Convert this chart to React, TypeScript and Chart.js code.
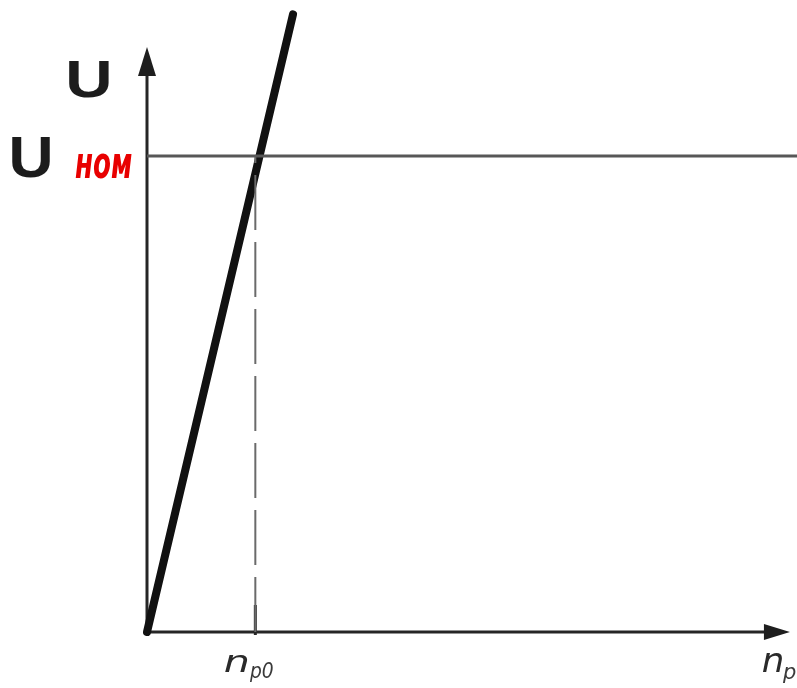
import React, { useEffect, useRef } from "react";
import { Chart, registerables } from "chart.js";

Chart.register(...registerables);

// Rotor speed (n_p, in units of n_p0) and terminal voltage (U, in units of U_nom)
const riseSpeed = [0, 1.348];
const riseVoltage = [0, 1.298];
const nominalVoltage = 1;
const thresholdSpeed = 1;
const speedMax = 6;
const voltageMax = 1.328;
const speedAxisEnd = 5.935;
const voltageAxisEnd = 1.229;

const nominalLine = [
  { x: 0, y: nominalVoltage },
  { x: speedMax, y: nominalVoltage },
];
const thresholdLine = [
  { x: thresholdSpeed, y: 0 },
  { x: thresholdSpeed, y: nominalVoltage },
];
const riseLine = riseSpeed.map((x, i) => ({ x, y: riseVoltage[i] }));

// Draws text stretched so that its ink fills the given box
function drawInBox(
  ctx: CanvasRenderingContext2D,
  text: string,
  font: string,
  color: string,
  x0: number,
  y0: number,
  x1: number,
  y1: number
) {
  ctx.save();
  ctx.font = font;
  ctx.fillStyle = color;
  ctx.textAlign = "left";
  ctx.textBaseline = "alphabetic";
  const m = ctx.measureText(text);
  const inkW = m.actualBoundingBoxLeft + m.actualBoundingBoxRight;
  const inkH = m.actualBoundingBoxAscent + m.actualBoundingBoxDescent;
  const sx = (x1 - x0) / inkW;
  const sy = (y1 - y0) / inkH;
  ctx.translate(x0, y0);
  ctx.scale(sx, sy);
  ctx.fillText(text, m.actualBoundingBoxLeft, m.actualBoundingBoxAscent);
  ctx.restore();
}

const axesPlugin = {
  id: "axesWithArrows",
  beforeDatasetsDraw(chart: any) {
    const ctx: CanvasRenderingContext2D = chart.ctx;
    const xs = chart.scales.x;
    const ys = chart.scales.y;
    const ox = xs.getPixelForValue(0);
    const oy = ys.getPixelForValue(0);
    const xEnd = xs.getPixelForValue(speedAxisEnd);
    const yEnd = ys.getPixelForValue(voltageAxisEnd);
    ctx.save();
    ctx.strokeStyle = "#262626";
    ctx.fillStyle = "#1e1e1e";
    ctx.lineWidth = 3;
    // vertical axis
    ctx.beginPath();
    ctx.moveTo(ox, oy + 2);
    ctx.lineTo(ox, yEnd + 20);
    ctx.stroke();
    ctx.beginPath();
    ctx.moveTo(ox, yEnd);
    ctx.lineTo(ox - 9, yEnd + 29);
    ctx.lineTo(ox + 9, yEnd + 29);
    ctx.closePath();
    ctx.fill();
    // horizontal axis
    ctx.beginPath();
    ctx.moveTo(ox, oy);
    ctx.lineTo(xEnd - 20, oy);
    ctx.stroke();
    ctx.beginPath();
    ctx.moveTo(xEnd, oy);
    ctx.lineTo(xEnd - 26, oy - 8);
    ctx.lineTo(xEnd - 26, oy + 8);
    ctx.closePath();
    ctx.fill();
    // tick at n_p0
    const tx = xs.getPixelForValue(thresholdSpeed);
    ctx.lineWidth = 3;
    ctx.beginPath();
    ctx.moveTo(tx, oy - 27);
    ctx.lineTo(tx, oy + 3);
    ctx.stroke();
    ctx.restore();
  },
  afterDatasetsDraw(chart: any) {
    const ctx: CanvasRenderingContext2D = chart.ctx;
    const sans = "'DejaVu Sans', sans-serif";
    const arial = "'Liberation Sans', Arial, sans-serif";
    drawInBox(ctx, "U", `bold 48px ${arial}`, "#1c1c1c", 68, 61, 109, 97);
    drawInBox(ctx, "U", `bold 48px ${arial}`, "#1c1c1c", 11, 138, 50, 177);
    drawInBox(ctx, "ном", `italic bold 30px ${sans}`, "#e80000", 75, 153, 132, 178);
    drawInBox(ctx, "n", `italic 30px ${sans}`, "#2a2a2a", 225, 655, 247, 672);
    drawInBox(ctx, "p0", `italic 20px ${sans}`, "#3a3a3a", 249, 663, 273, 682);
    drawInBox(ctx, "n", `italic 30px ${sans}`, "#2a2a2a", 763, 653, 782, 672);
    ctx.save();
    ctx.font = `italic 21px ${sans}`;
    ctx.fillStyle = "#3a3a3a";
    ctx.textBaseline = "alphabetic";
    ctx.fillText("p", 783, 679);
    ctx.restore();
  },
};

export default function App() {
  const canvasRef = useRef<HTMLCanvasElement | null>(null);

  useEffect(() => {
    if (!canvasRef.current) return;
    const chart = new Chart(canvasRef.current, {
      type: "scatter",
      data: {
        datasets: [
          {
            data: nominalLine,
            showLine: true,
            borderColor: "#575757",
            borderWidth: 3,
            pointRadius: 0,
            clip: false as any,
          },
          {
            data: thresholdLine,
            showLine: true,
            borderColor: "#6a6a6a",
            borderWidth: 2,
            borderDash: [55, 12],
            pointRadius: 0,
            clip: false as any,
          },
          {
            data: riseLine,
            showLine: true,
            borderColor: "#111111",
            borderWidth: 8,
            borderCapStyle: "round",
            pointRadius: 0,
            clip: false as any,
          },
        ],
      },
      options: {
        responsive: false,
        animation: false,
        layout: { padding: { left: 147, right: 0, top: 0, bottom: 56 } },
        plugins: {
          legend: { display: false },
          tooltip: { enabled: false },
        },
        scales: {
          x: { type: "linear", min: 0, max: speedMax, display: false },
          y: { type: "linear", min: 0, max: voltageMax, display: false },
        },
      },
      plugins: [axesPlugin],
    });
    return () => chart.destroy();
  }, []);

  return (
    <div style={{ position: "fixed", left: 0, top: 0, width: 797, height: 688, background: "#ffffff" }}>
      <canvas ref={canvasRef} width={797} height={688} style={{ display: "block" }} />
    </div>
  );
}
